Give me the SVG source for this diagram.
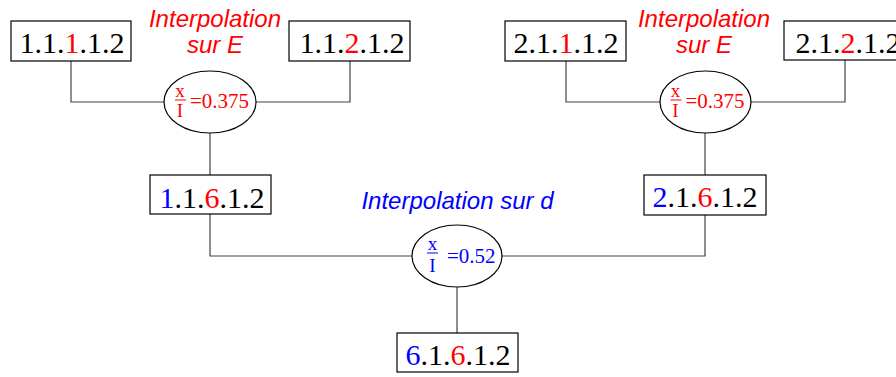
<svg xmlns="http://www.w3.org/2000/svg" width="896" height="377" viewBox="0 0 896 377">
<style>
.box{fill:#fff;stroke:#000;stroke-width:1.2}
.ell{fill:#fff;stroke:#000;stroke-width:1.2}
.conn{fill:none;stroke:#444;stroke-width:1.2}
.code{font-family:"Liberation Serif","Times New Roman",serif;font-size:30px;fill:#000;text-anchor:middle}
.lbl{font-family:"Liberation Sans",Arial,sans-serif;font-style:italic;font-size:24px;text-anchor:middle}
.num{font-family:"Liberation Serif","Times New Roman",serif;font-size:21px}
.frac{font-family:"Liberation Serif","Times New Roman",serif;font-size:19px;text-anchor:middle}
.r{fill:#ff0000}
.b{fill:#0000ff}
</style>
<rect width="896" height="377" fill="#fff"/>
<g id="connectors">
<path class="conn" d="M71,61 V102 H164"/>
<path class="conn" d="M350,61 V102 H256"/>
<path class="conn" d="M210,133 V175"/>
<path class="conn" d="M210,214 V256 H412"/>
<path class="conn" d="M566,61 V102 H660"/>
<path class="conn" d="M845,60 V102 H751"/>
<path class="conn" d="M705,133 V175"/>
<path class="conn" d="M705,215 V256 H502"/>
<path class="conn" d="M457,287 V333"/>
</g>
<g id="n1"><rect class="box" x="11" y="21" width="120" height="40"/><text class="code" x="72" y="53">1.1.<tspan class="r">1</tspan>.1.2</text></g>
<g id="n2"><rect class="box" x="289" y="21" width="121" height="40"/><text class="code" x="352" y="53">1.1.<tspan class="r">2</tspan>.1.2</text></g>
<g id="n3"><rect class="box" x="150" y="175" width="121" height="39"/><text class="code" x="212" y="208"><tspan class="b">1</tspan>.1.<tspan class="r">6</tspan>.1.2</text></g>
<g id="n4"><rect class="box" x="505" y="21" width="121" height="40"/><text class="code" x="566" y="53">2.1.<tspan class="r">1</tspan>.1.2</text></g>
<g id="n5"><rect class="box" x="784" y="21" width="121" height="39"/><text class="code" x="848" y="53">2.1.<tspan class="r">2</tspan>.1.2</text></g>
<g id="n6"><rect class="box" x="644" y="175" width="122" height="40"/><text class="code" x="705" y="207"><tspan class="b">2</tspan>.1.<tspan class="r">6</tspan>.1.2</text></g>
<g id="n7"><rect class="box" x="397" y="333" width="121" height="39"/><text class="code" x="458" y="365"><tspan class="b">6</tspan>.1.<tspan class="r">6</tspan>.1.2</text></g>
<g id="e1"><ellipse class="ell" cx="210" cy="102" rx="46" ry="31"/>
<text class="frac r" x="180" y="97">x</text>
<line x1="175" y1="100" x2="186" y2="100" stroke="#ff0000" stroke-width="1"/>
<text class="frac r" x="180" y="117" font-size="20">I</text>
<text class="num r" x="190" y="108">=0.375</text></g>
<g id="e3"><ellipse class="ell" cx="705.5" cy="102" rx="45.5" ry="31"/>
<text class="frac r" x="675.5" y="97">x</text>
<line x1="670.5" y1="100" x2="681.5" y2="100" stroke="#ff0000" stroke-width="1"/>
<text class="frac r" x="675.5" y="117" font-size="20">I</text>
<text class="num r" x="685.5" y="108">=0.375</text></g>
<g id="e2"><ellipse class="ell" cx="457" cy="256" rx="45" ry="31"/>
<text class="frac b" x="432.5" y="250">x</text>
<line x1="427" y1="253" x2="438" y2="253" stroke="#0000ff" stroke-width="1"/>
<text class="frac b" x="432.5" y="272" font-size="20">I</text>
<text class="num b" x="447" y="263">=0.52</text></g>
<g id="labels">
<text class="lbl r" x="215" y="27">Interpolation</text>
<text class="lbl r" x="215" y="53">sur E</text>
<text class="lbl r" x="704" y="27">Interpolation</text>
<text class="lbl r" x="704" y="53">sur E</text>
<text class="lbl b" x="457.5" y="209">Interpolation sur d</text>
</g>
</svg>
